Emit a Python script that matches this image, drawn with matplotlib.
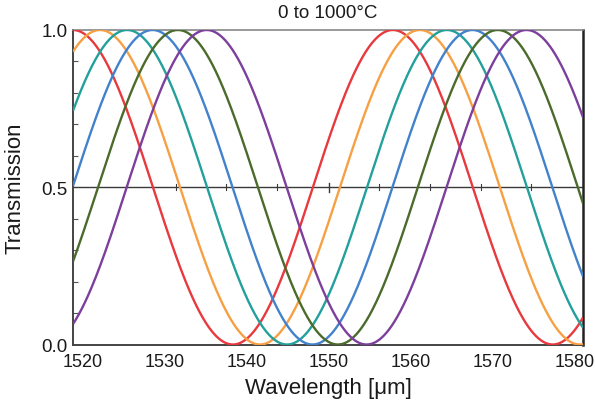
import numpy as np
import matplotlib.pyplot as plt
from matplotlib.ticker import MultipleLocator

plt.rcParams['font.family'] = ['Liberation Sans', 'DejaVu Sans']

# peak wavelengths [nm], one per temperature step
peaks = [1557.8, 1561.1, 1564.4, 1567.5, 1570.6, 1574.1]
fsr = 39.0
colors = ['#e8393e', '#f7a043', '#23a09b', '#4282cc', '#4b6b2c', '#7d3f9c']
xticks = [1520, 1530, 1540, 1550, 1560, 1570, 1580]
mid_ticks = [1531.3, 1537.5, 1543.7, 1556.1, 1562.3, 1568.5, 1574.7]

fig = plt.figure(figsize=(5.95, 4.02), dpi=100)
ax = fig.add_axes([0.1227, 0.1405, 0.8573, 0.7824])

wl = np.linspace(1518.8, 1581.0, 800)
for p, c in zip(peaks, colors):
    t = 0.5 * (1 + np.cos(2 * np.pi * (wl - p) / fsr))
    ax.plot(wl, t, color=c, lw=1.7, solid_capstyle='butt', zorder=3)

ax.axhline(0.5, color='#3a3a3a', lw=1.0, zorder=2)
# tick marks sitting on the middle line
ax.plot([1550, 1550], [0.485, 0.515], color='#3a3a3a', lw=1.0, zorder=2)
for m in mid_ticks:
    ax.plot([m, m], [0.49, 0.51], color='#3a3a3a', lw=0.8, zorder=2)

ax.set_xlim(1518.8, 1581.0)
ax.set_ylim(0, 1)
ax.set_xticks(xticks)
ax.set_yticks([0, 0.5, 1.0])
ax.set_yticklabels(['0.0', '0.5', '1.0'])
ax.yaxis.set_minor_locator(MultipleLocator(0.1))
ax.tick_params(axis='x', length=0, pad=6, labelsize=13, colors='#1a1a1a')
ax.tick_params(axis='y', which='major', length=0, pad=4, labelsize=13.5,
               colors='#1a1a1a')
ax.tick_params(axis='y', which='minor', direction='in', length=3.5,
               width=0.8, color='#555555')

for s in ['left', 'bottom']:
    ax.spines[s].set_color('#444444')
    ax.spines[s].set_linewidth(1.4)
ax.spines['top'].set_color('#888888')
ax.spines['top'].set_linewidth(1.2)
ax.spines['right'].set_color('#222222')
ax.spines['right'].set_linewidth(1.8)

ax.set_xlabel('Wavelength [μm]', fontsize=16, color='#1a1a1a', labelpad=5)
ax.set_ylabel('Transmission', fontsize=16, color='#1a1a1a', labelpad=11)
ax.set_title('0 to 1000°C', fontsize=13.5, color='#1a1a1a', pad=9)

fig.savefig('out.png', dpi=100)
